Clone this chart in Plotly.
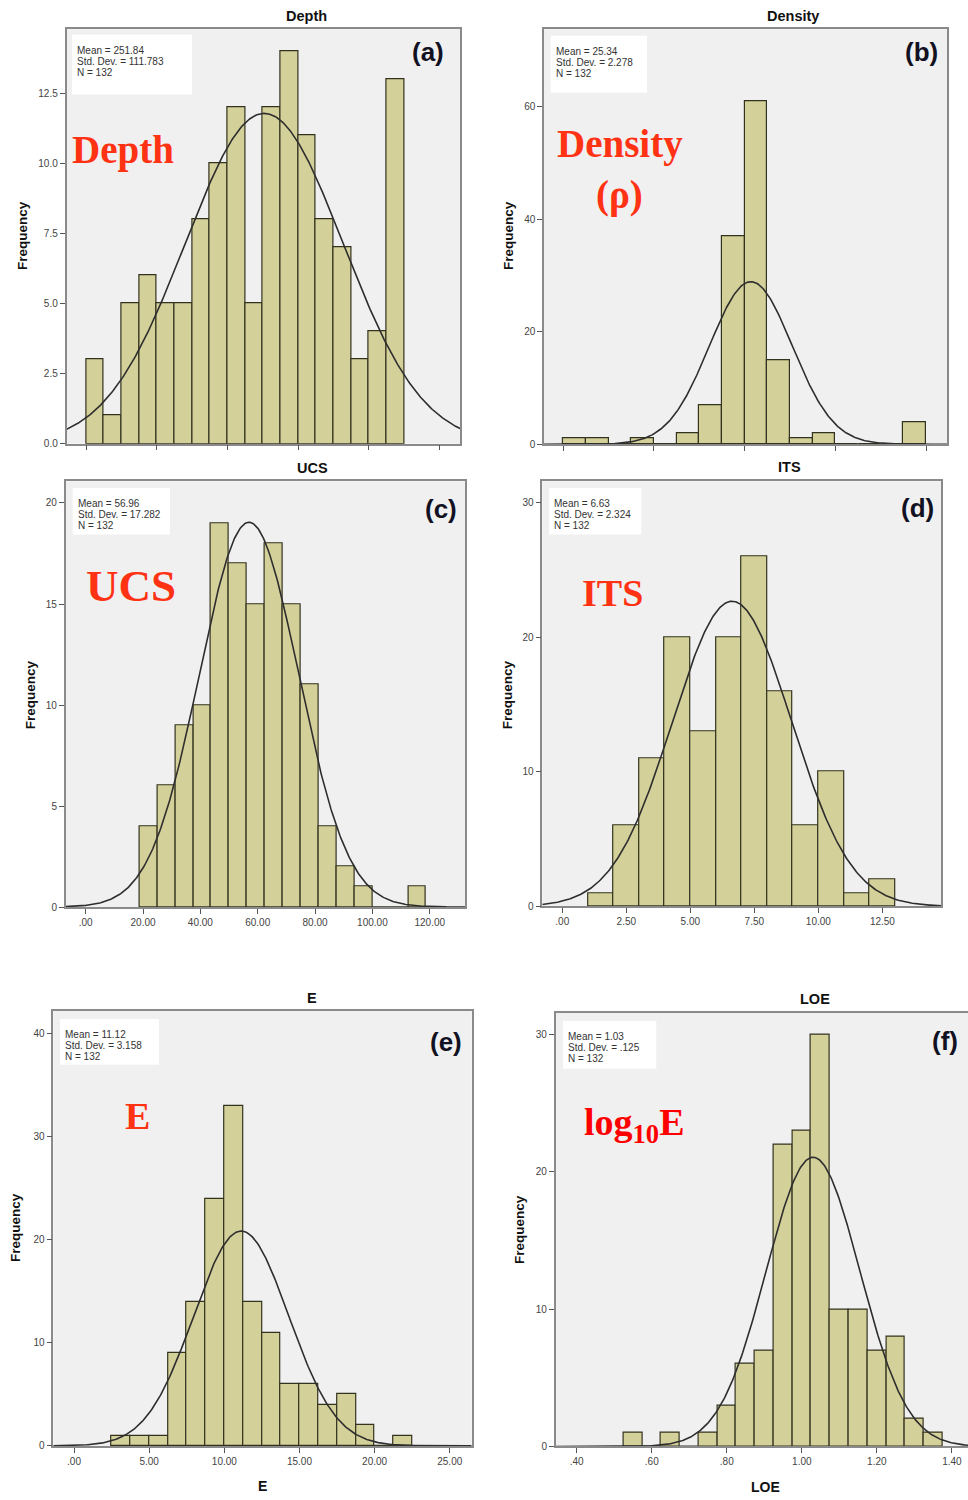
import numpy as np
import plotly.graph_objects as go

W, H = 968, 1500

# ---------------- data ----------------
titles = ["Depth", "Density", "UCS", "ITS", "E", "LOE"]
panel_tags = ["(a)", "(b)", "(c)", "(d)", "(e)", "(f)"]
big_labels = ["Depth", "Density", "UCS", "ITS", "E", "log<sub>10</sub>E"]

depth_start, depth_width = 0.0, 25.0
depth_counts = [3, 1, 5, 6, 5, 5, 8, 10, 12, 5, 12, 14, 11, 8, 7, 3, 4, 13]

density_start, density_width = 15.0, 1.25
density_counts = [1, 1, 0, 1, 0, 2, 7, 37, 61, 15, 1, 2, 0, 0, 0, 4]

ucs_start, ucs_width = 18.75, 6.25
ucs_counts = [4, 6, 9, 10, 19, 17, 15, 18, 15, 11, 4, 2, 1, 0, 0, 1]

its_start, its_width = 1.0, 1.0
its_counts = [1, 6, 11, 20, 13, 20, 26, 16, 6, 10, 1, 2]

e_start, e_width = 2.5, 1.25
e_counts = [1, 1, 1, 9, 14, 24, 33, 14, 11, 6, 6, 4, 5, 2, 0, 1]

loe_start, loe_width = 0.525, 0.05
loe_counts = [1, 0, 1, 0, 1, 3, 6, 7, 22, 23, 30, 10, 10, 7, 8, 2, 1]

means = [251.84, 25.34, 56.96, 6.63, 11.12, 1.03]
means_txt = ["251.84", "25.34", "56.96", "6.63", "11.12", "1.03"]
sds = [111.783, 2.278, 17.282, 2.324, 3.158, 0.125]
sds_txt = ["111.783", "2.278", "17.282", "2.324", "3.158", ".125"]
n_obs = 132

depth_xticks = [0, 100, 200, 300, 400, 500]
density_xticks = [15, 20, 25, 30, 35]
ucs_xticks = [0, 20, 40, 60, 80, 100, 120]
ucs_xlabels = [".00", "20.00", "40.00", "60.00", "80.00", "100.00", "120.00"]
its_xticks = [0, 2.5, 5, 7.5, 10, 12.5]
its_xlabels = [".00", "2.50", "5.00", "7.50", "10.00", "12.50"]
e_xticks = [0, 5, 10, 15, 20, 25]
e_xlabels = [".00", "5.00", "10.00", "15.00", "20.00", "25.00"]
loe_xticks = [0.4, 0.6, 0.8, 1.0, 1.2, 1.4]
loe_xlabels = [".40", ".60", ".80", "1.00", "1.20", "1.40"]

depth_yticks = [0, 2.5, 5, 7.5, 10, 12.5]
depth_ylabels = ["0.0", "2.5", "5.0", "7.5", "10.0", "12.5"]
density_yticks = [0, 20, 40, 60]
ucs_yticks = [0, 5, 10, 15, 20]
its_yticks = [0, 10, 20, 30]
e_yticks = [0, 10, 20, 30, 40]
loe_yticks = [0, 10, 20, 30]

# ---------------- layout (pixels) ----------------
panels = [
    dict(start=depth_start, width=depth_width, counts=depth_counts,
         px=(66.5, 460), py=(29.3, 445.5), xr=(-28, 529), yr=(0, 14.78),
         xt=depth_xticks, xl=None, yt=depth_yticks, yl=depth_ylabels),
    dict(start=density_start, width=density_width, counts=density_counts,
         px=(544, 947), py=(29.3, 446), xr=(13.94, 36.15), yr=(0, 73.8),
         xt=density_xticks, xl=None, yt=density_yticks, yl=[str(v) for v in density_yticks]),
    dict(start=ucs_start, width=ucs_width, counts=ucs_counts,
         px=(65.7, 465), py=(483.3, 910.7), xr=(-6.98, 132.3), yr=(0, 21.07),
         xt=ucs_xticks, xl=ucs_xlabels, yt=ucs_yticks, yl=[str(v) for v in ucs_yticks]),
    dict(start=its_start, width=its_width, counts=its_counts,
         px=(542.3, 941.3), py=(483.3, 910), xr=(-0.78, 14.8), yr=(0, 31.56),
         xt=its_xticks, xl=its_xlabels, yt=its_yticks, yl=[str(v) for v in its_yticks]),
    dict(start=e_start, width=e_width, counts=e_counts,
         px=(53.3, 471.7), py=(1015, 1451.7), xr=(-1.38, 26.46), yr=(0, 42.2),
         xt=e_xticks, xl=e_xlabels, yt=e_yticks, yl=[str(v) for v in e_yticks]),
    dict(start=loe_start, width=loe_width, counts=loe_counts,
         px=(555.7, 968), py=(1016.7, 1452.3), xr=(0.344, 1.443), yr=(0, 31.6),
         xt=loe_xticks, xl=loe_xlabels, yt=loe_yticks, yl=[str(v) for v in loe_yticks]),
]

title_pos = [(306, 16), (793, 16), (312, 470), (789, 469), (312, 1002), (815, 1003)]
freq_pos = [(22, 237), (508, 237), (30, 698), (507, 697), (15, 1233), (519, 1235)]
tag_pos = [(428, 52), (921, 52), (441, 511), (917, 510), (446, 1046), (945, 1045)]
box_pos = [(72, 35, 192, 95), (550.7, 36, 647, 93), (72.7, 490, 170, 536.7),
           (549, 490, 641.3, 536.7), (60, 1023, 159, 1069), (563, 1025, 656.3, 1073)]
big_pos = [(123, 151), (620, 145), (131, 588), (612, 595), (137, 1120), (634, 1130)]
big_size = [39, 39, 45, 38, 38, 38]
big_color = ["#ff3214", "#ff3214", "#ff3214", "#ff3214", "#ff3214", "#ff0000"]

BAR = "#d4d09a"
FRAME = "#8a8a8a"
FONT = "Arial, Liberation Sans, sans-serif"
SERIF = "Times New Roman, Liberation Serif, serif"


def fx(p):
    return p / W


def fy(p):
    return 1 - p / H


def ann(x, y, text, font, **kw):
    d = dict(x=fx(x), y=fy(y), xref="paper", yref="paper", text=text, showarrow=False,
             xanchor="center", yanchor="middle", font=font)
    d.update(kw)
    return d


fig = go.Figure()
layout = dict(width=W, height=H, margin=dict(l=0, r=0, t=0, b=0),
              paper_bgcolor="white", plot_bgcolor="#f0f0f0",
              showlegend=False, bargap=0)
annotations = []
shapes = []

for i, p in enumerate(panels):
    k = "" if i == 0 else str(i + 1)
    xa, ya = "x" + k, "y" + k
    counts = np.array(p["counts"], dtype=float)
    centers = p["start"] + p["width"] * (np.arange(len(counts)) + 0.5)
    fig.add_trace(go.Bar(x=centers, y=counts, width=p["width"], xaxis=xa, yaxis=ya,
                         marker=dict(color=BAR, line=dict(color="#33321f", width=1.2)),
                         hoverinfo="x+y"))
    xs = np.linspace(p["xr"][0], p["xr"][1], 400)
    mu, sd = means[i], sds[i]
    ys = n_obs * p["width"] * np.exp(-0.5 * ((xs - mu) / sd) ** 2) / (sd * np.sqrt(2 * np.pi))
    fig.add_trace(go.Scatter(x=xs, y=ys, mode="lines", xaxis=xa, yaxis=ya,
                             line=dict(color="#2e2e2e", width=1.6), hoverinfo="skip"))

    ax_common = dict(showgrid=False, zeroline=False, showline=True, linecolor=FRAME,
                     linewidth=1.5, ticks="outside", ticklen=5, tickcolor="#555",
                     tickfont=dict(family=FONT, size=10, color="#444"))
    xaxis = dict(ax_common, domain=[fx(p["px"][0]), fx(p["px"][1])],
                 range=list(p["xr"]), anchor=ya, mirror=True,
                 tickmode="array", tickvals=p["xt"])
    if p["xl"] is None:
        xaxis["showticklabels"] = False
    else:
        xaxis["ticktext"] = p["xl"]
    layout["xaxis" + k] = xaxis
    layout["yaxis" + k] = dict(ax_common, domain=[fy(p["py"][1]), fy(p["py"][0])],
                               range=list(p["yr"]), anchor=xa, mirror=(i != 5),
                               tickmode="array", tickvals=p["yt"], ticktext=p["yl"])

    annotations.append(ann(*title_pos[i], "<b>%s</b>" % titles[i],
                           dict(family=FONT, size=14.5, color="#111")))
    annotations.append(ann(*freq_pos[i], "<b>Frequency</b>",
                           dict(family=FONT, size=13.5, color="#111"), textangle=-90))
    annotations.append(ann(*tag_pos[i], "<b>%s</b>" % panel_tags[i],
                           dict(family=FONT, size=26, color="#111122")))
    annotations.append(ann(*big_pos[i], "<b>%s</b>" % big_labels[i],
                           dict(family=SERIF, size=big_size[i], color=big_color[i])))
    if i == 1:
        annotations.append(ann(619, 196, "<b>(ρ)</b>",
                               dict(family=SERIF, size=39, color=big_color[i])))
    bx0, by0, bx1, by1 = box_pos[i]
    shapes.append(dict(type="rect", xref="paper", yref="paper",
                       x0=fx(bx0), x1=fx(bx1), y0=fy(by1), y1=fy(by0),
                       fillcolor="white", line=dict(width=0), layer="above"))
    lines = ["Mean = %s" % means_txt[i], "Std. Dev. = %s" % sds_txt[i], "N = %d" % n_obs]
    for j, t in enumerate(lines):
        annotations.append(ann(bx0 + 3, by0 + 16 + 11 * j, t,
                               dict(family=FONT, size=10, color="#333"), xanchor="left"))

annotations.append(ann(262, 1492, "<b>E</b>", dict(family=FONT, size=14, color="#111")))
annotations.append(ann(765, 1493, "<b>LOE</b>", dict(family=FONT, size=14, color="#111")))

layout["annotations"] = annotations
layout["shapes"] = shapes
fig.update_layout(**layout)
fig.write_html("out.html")
